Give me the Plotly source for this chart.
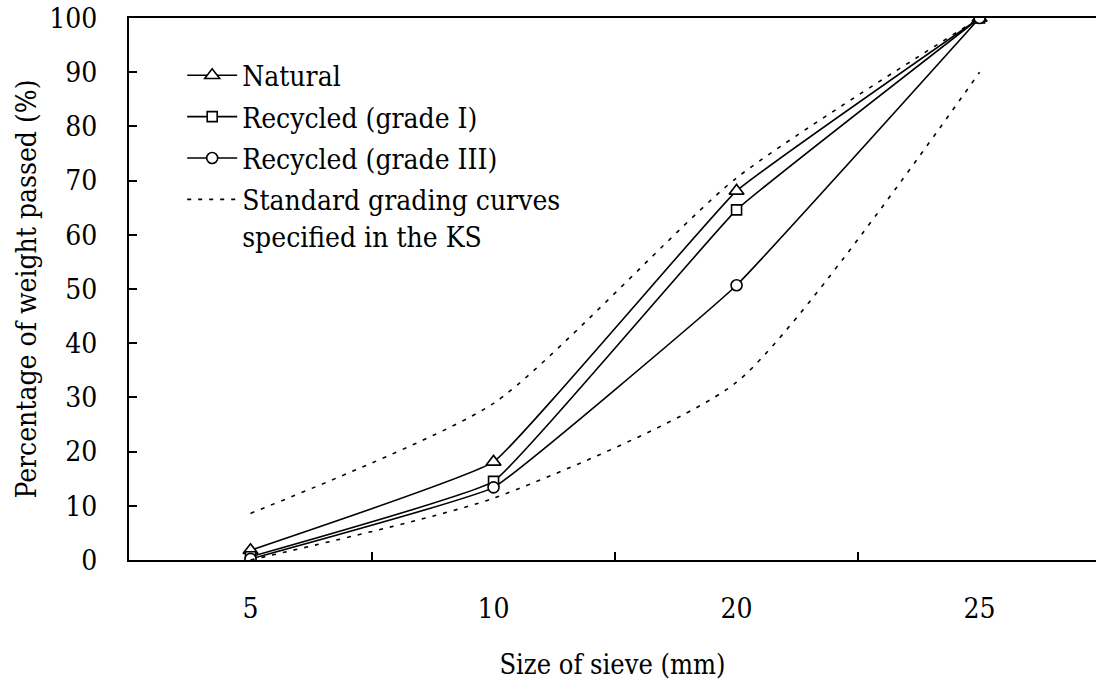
import plotly.graph_objects as go

sieve_sizes = ["5", "10", "20", "25"]
natural = [1.8, 18.1, 68.1, 100]
recycled_grade1 = [0.6, 14.5, 64.6, 100]
recycled_grade3 = [0.2, 13.4, 50.7, 100]
standard_upper = [8.6, 28.9, 70.5, 100]
standard_lower = [0.0, 11.4, 32.8, 90]

F_COND = "DejaVu Serif Condensed, DejaVu Serif"
fig = go.Figure()

solid_line = dict(color="black", width=1.6, shape="spline", smoothing=0.25)
dash_line = dict(color="black", width=1.6, dash="4px,7px", shape="spline", smoothing=0.6)

fig.add_trace(go.Scatter(x=sieve_sizes, y=natural, name="Natural", mode="lines+markers",
                         line=solid_line,
                         marker=dict(symbol="triangle-up", size=13, color="white",
                                     line=dict(color="black", width=1.6))))
fig.add_trace(go.Scatter(x=sieve_sizes, y=recycled_grade1, name="Recycled (grade I)", mode="lines+markers",
                         line=solid_line,
                         marker=dict(symbol="square", size=10, color="white",
                                     line=dict(color="black", width=1.6))))
fig.add_trace(go.Scatter(x=sieve_sizes, y=recycled_grade3, name="Recycled (grade III)", mode="lines+markers",
                         line=solid_line,
                         marker=dict(symbol="circle", size=11, color="white",
                                     line=dict(color="black", width=1.6))))
fig.add_trace(go.Scatter(x=sieve_sizes, y=standard_upper,
                         name="Standard grading curves<br>specified in the KS",
                         mode="lines", line=dash_line, legendgroup="ks"))
fig.add_trace(go.Scatter(x=sieve_sizes, y=standard_lower, name="KS lower", showlegend=False,
                         mode="lines", line=dash_line, legendgroup="ks"))

fig.update_layout(
    template="none",
    width=1096, height=684,
    margin=dict(l=129, r=0, t=18, b=124, autoexpand=False),
    plot_bgcolor="white", paper_bgcolor="white",
    font=dict(family=F_COND, size=27, color="black"),
    showlegend=True,
    legend=dict(x=0.055, y=0.94, xanchor="left", yanchor="top",
                bgcolor="rgba(0,0,0,0)", borderwidth=0,
                font=dict(family=F_COND, size=28, color="black"),
                itemwidth=50, tracegroupgap=2, valign="top"),
    xaxis=dict(type="category", range=[-0.5, 3.479], automargin=False,
               showline=True, linecolor="black", linewidth=2, mirror=True,
               ticks="inside", ticklen=8, tickwidth=2, tickcolor="black",
               tickson="boundaries", showgrid=False, zeroline=False,
               ticklabelstandoff=22,
               tickfont=dict(family=F_COND, size=28),
               title=dict(text="Size of sieve (mm)", font=dict(family=F_COND, size=27), standoff=32)),
    yaxis=dict(range=[0, 100], dtick=10, tick0=0, automargin=False,
               showline=True, linecolor="black", linewidth=2, mirror=False,
               ticks="inside", ticklen=8, tickwidth=2, tickcolor="black",
               showgrid=False, zeroline=False,
               ticklabelstandoff=24,
               tickfont=dict(family=F_COND, size=28),
               title=dict(text="Percentage of weight passed (%)", font=dict(family=F_COND, size=28), standoff=5)),
)

fig.write_html("out.html", config={"displayModeBar": False},
               post_script="document.body.style.margin='0';document.body.style.overflow='hidden';")
